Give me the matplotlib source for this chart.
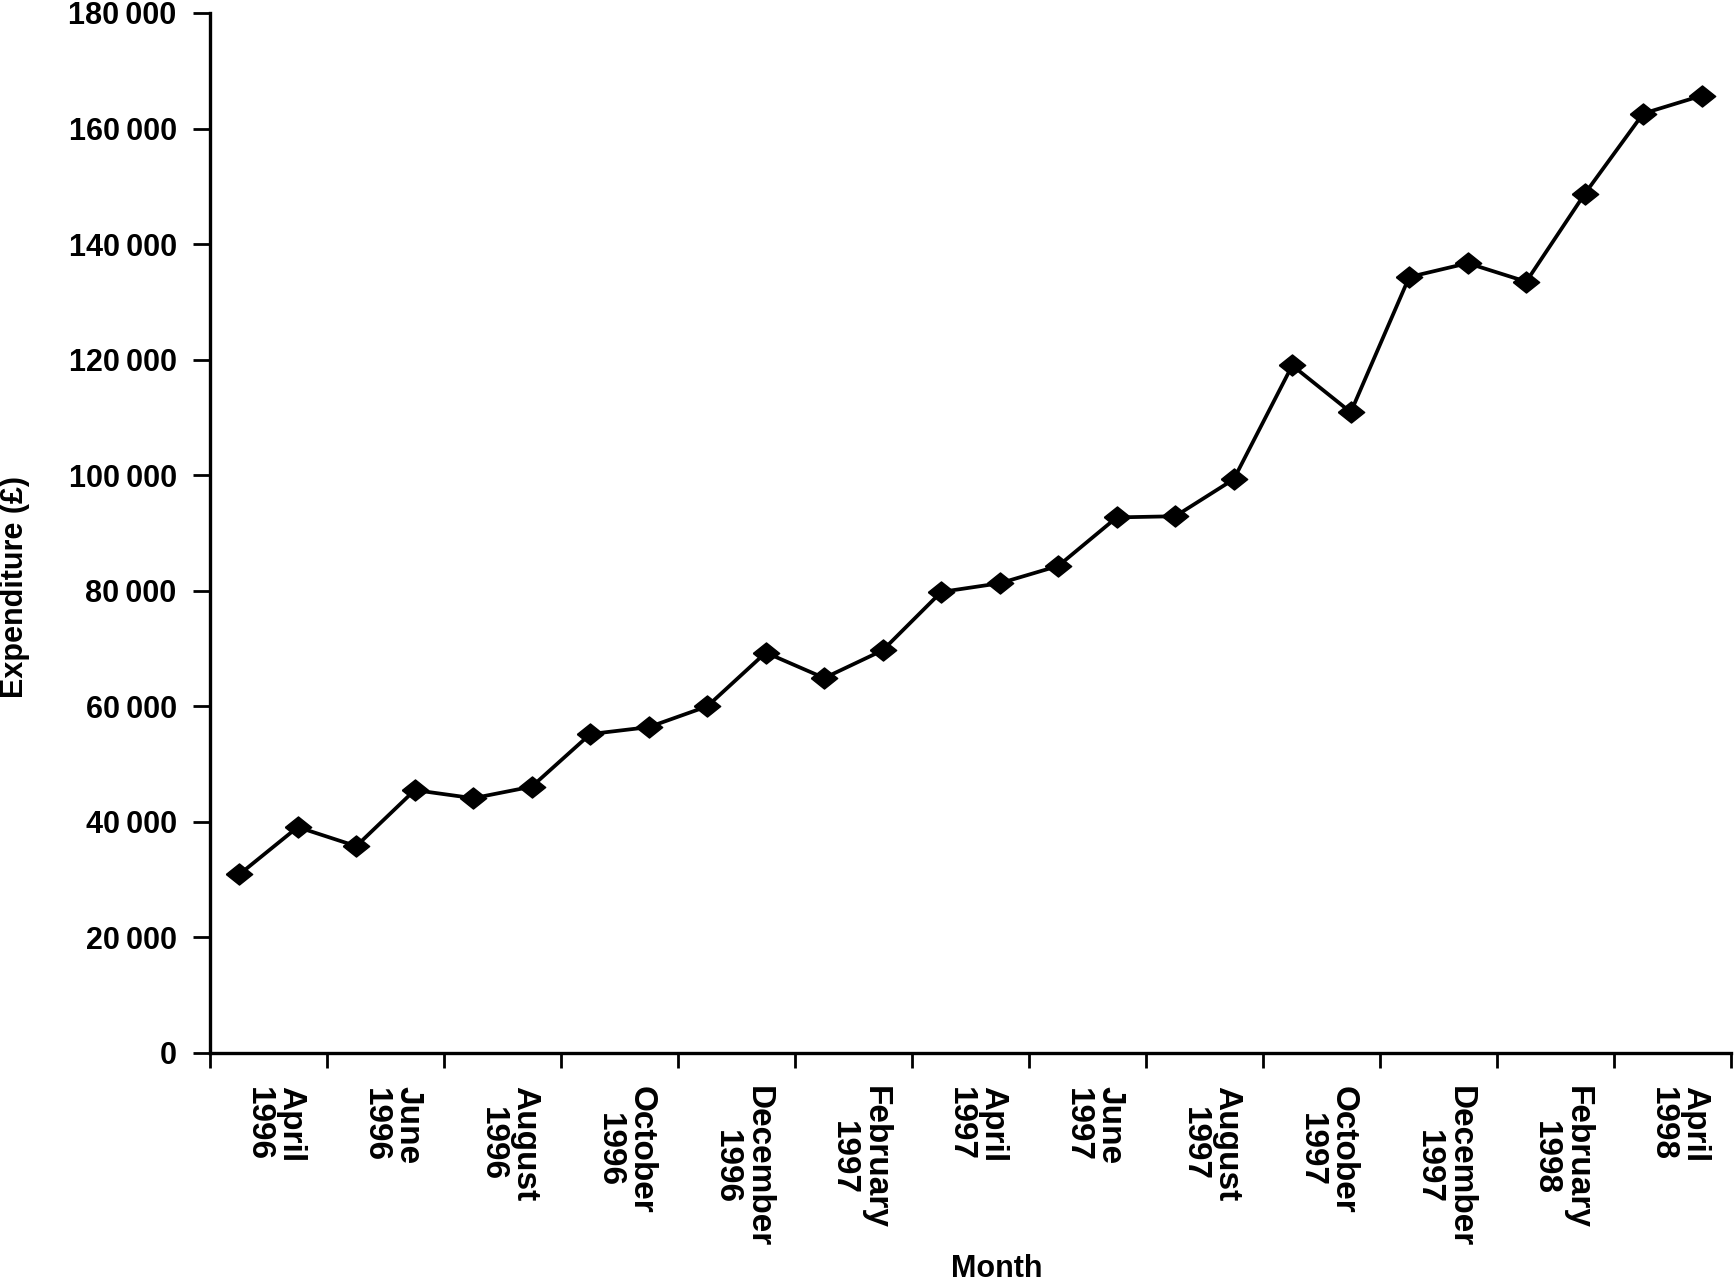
import matplotlib
matplotlib.use("Agg")
from matplotlib import pyplot as plt
from matplotlib.ticker import FixedLocator, FuncFormatter, NullFormatter
import matplotlib.transforms as mtransforms

plt.rcParams['font.family'] = ['Liberation Sans', 'DejaVu Sans']
plt.rcParams['font.weight'] = 'bold'

# monthly expenditure, April 1996 - May 1998
months = ['April 1996', 'May 1996', 'June 1996', 'July 1996', 'August 1996',
          'September 1996', 'October 1996', 'November 1996', 'December 1996',
          'January 1997', 'February 1997', 'March 1997', 'April 1997',
          'May 1997', 'June 1997', 'July 1997', 'August 1997',
          'September 1997', 'October 1997', 'November 1997', 'December 1997',
          'January 1998', 'February 1998', 'March 1998', 'April 1998',
          'May 1998']
expenditure = [30900, 39100, 35800, 45500, 44100, 46100, 55200, 56400, 60000,
               69300, 64900, 69700, 79800, 81300, 84300, 92700, 92900, 99300,
               119000, 110900, 134300, 136700, 133500, 148700, 162600, 165700]
y_ticks = [0, 20000, 40000, 60000, 80000, 100000, 120000, 140000, 160000,
           180000]

fig = plt.figure(figsize=(17.34, 12.83), dpi=100)
ax = fig.add_axes([210 / 1734, 1 - 1053 / 1283,
                   (1731 - 210) / 1734, (1053 - 13) / 1283])

x = list(range(len(months)))
diamond = [(-1, 0), (0, 0.8), (1, 0), (0, -0.8), (-1, 0)]
ax.plot(x, expenditure, color='black', linewidth=2.7,
        marker=diamond, markersize=19, markerfacecolor='black',
        markeredgecolor='black', clip_on=False)

ax.set_xlim(-0.5, len(months) - 0.5)
ax.set_ylim(0, 180000)

# y axis
ax.yaxis.set_major_locator(FixedLocator(y_ticks))
ax.yaxis.set_major_formatter(
    FuncFormatter(lambda v, p: f"{v:,.0f}".replace(",", "\u2009")))
ax.tick_params(axis='y', direction='out', length=12, width=2, pad=12,
               labelsize=22)

# x axis: ticks at every second category boundary, labels centred between
bounds = [i - 0.5 for i in range(0, len(months) + 1, 2)]
label_pos = [i + 0.5 for i in range(0, len(months), 2)]
labels = [months[i].replace(' ', '\n') for i in range(0, len(months), 2)]
ax.xaxis.set_major_locator(FixedLocator(bounds))
ax.xaxis.set_major_formatter(NullFormatter())
ax.xaxis.set_minor_locator(FixedLocator(label_pos))
ax.set_xticklabels(labels, minor=True)
ax.tick_params(axis='x', which='major', direction='out', length=11, width=2)
ax.tick_params(axis='x', which='minor', length=0, pad=24, labelsize=24)
shift = mtransforms.ScaledTranslation(6 / 100, 0, fig.dpi_scale_trans)
for lab in ax.xaxis.get_minorticklabels():
    lab.set_rotation(270)
    lab.set_ha('center')
    lab.set_va('top')
    lab.set_multialignment('center')
    lab.set_linespacing(1.05)
    lab.set_transform(lab.get_transform() + shift)

for side in ['top', 'right']:
    ax.spines[side].set_visible(False)
for side in ['left', 'bottom']:
    ax.spines[side].set_linewidth(2.4)

# axis titles
fig.text(15 / 1734, 1 - 587 / 1283, 'Expenditure (£)', rotation=90,
         ha='center', va='center', fontsize=22, fontweight='bold')
fig.text(997 / 1734, 6 / 1283, 'Month', ha='center', va='baseline',
         fontsize=22, fontweight='bold')

fig.savefig('out.png', dpi=100)
